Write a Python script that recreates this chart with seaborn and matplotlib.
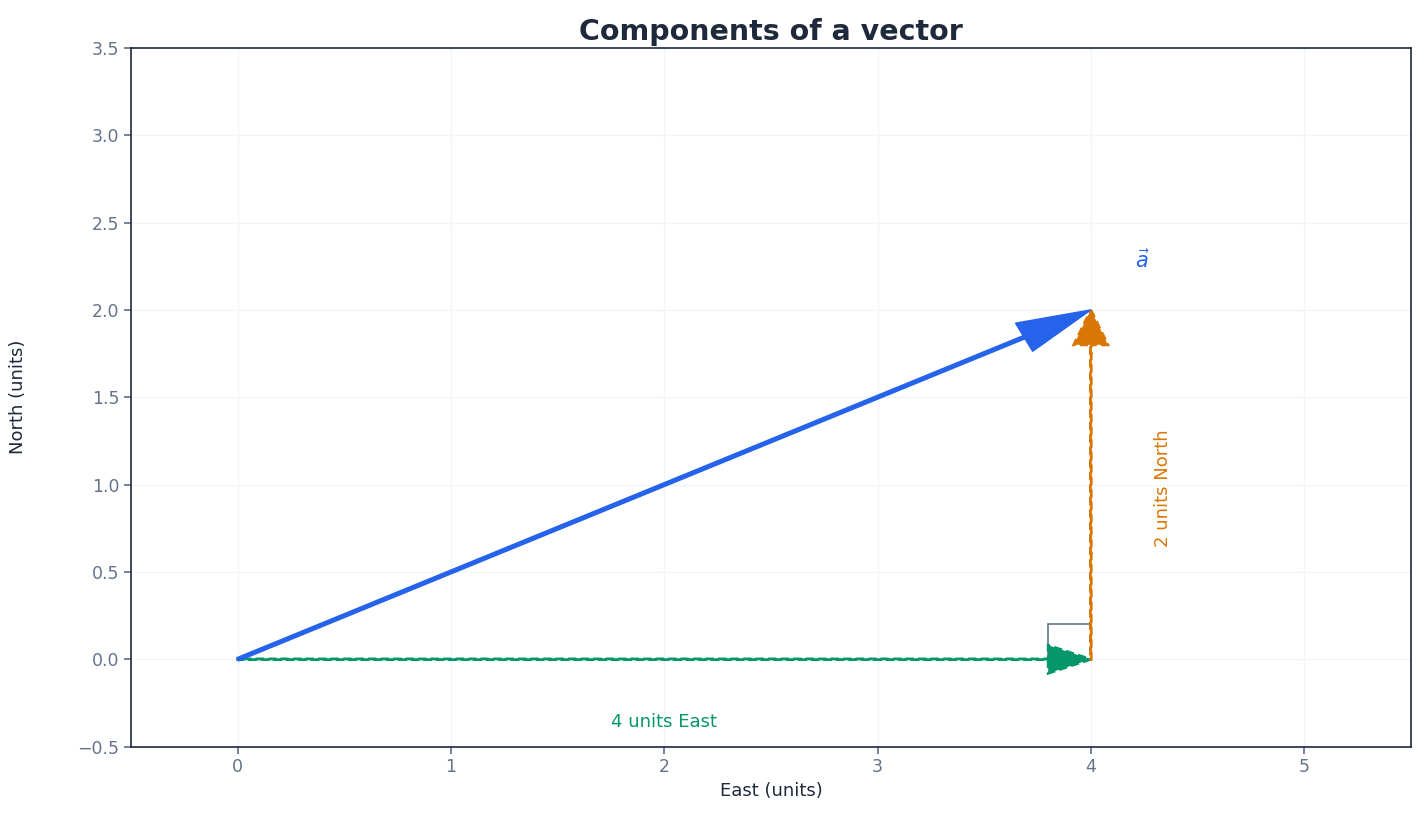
import matplotlib
matplotlib.use("Agg")
import matplotlib.pyplot as plt
import matplotlib.patches as mpatches
import seaborn as sns

# vector and its components
vec_a = (4, 2)
east = (4, 0)
north = (0, 2)
x_ticks = [0, 1, 2, 3, 4, 5]
y_ticks = [-0.5, 0.0, 0.5, 1.0, 1.5, 2.0, 2.5, 3.0, 3.5]

BLUE = "#2563eb"
GREEN = "#059669"
ORANGE = "#d97706"
DARK = "#1e293b"
GREY = "#64748b"

sns.set_theme(style="white")
plt.rcParams["font.family"] = ["DejaVu Sans"]

fig, ax = plt.subplots(figsize=(14.25, 8.25), dpi=100)

ax.arrow(0, 0, vec_a[0], vec_a[1], width=0.02, head_width=0.18, head_length=0.35,
         length_includes_head=True, color=BLUE, zorder=3)
ax.arrow(0, 0, east[0], east[1], width=0.004, head_width=0.16, head_length=0.2,
         length_includes_head=True, color=GREEN, linestyle=(0, (3, 1.5)), linewidth=2, zorder=2)
ax.arrow(east[0], east[1], north[0], north[1], width=0.004, head_width=0.16, head_length=0.2,
         length_includes_head=True, color=ORANGE, linestyle=(0, (3, 1.5)), linewidth=2, zorder=2)

# right angle marker
ax.add_patch(mpatches.Rectangle((east[0] - 0.2, 0), 0.2, 0.2, fill=False,
                                edgecolor=GREY, linewidth=1.2))

ax.text(4.24, 2.28, r"$\vec{a}$", color=BLUE, fontsize=15, ha="center", va="center")
ax.text(2, -0.36, "4 units East", color=GREEN, fontsize=13, ha="center", va="center")
ax.text(4.34, 0.98, "2 units North", color=ORANGE, fontsize=13, ha="center", va="center",
        rotation=90)

ax.set_xlim(-0.5, 5.5)
ax.set_ylim(-0.5, 3.5)
ax.set_xticks(x_ticks)
ax.set_yticks(y_ticks)
ax.set_yticklabels([f"{v:.1f}".replace("-", "\u2212") for v in y_ticks])
ax.grid(True, color="#f1f5f9", linewidth=1)
ax.tick_params(colors=GREY, labelsize=12.5, length=5, left=True, bottom=True)
for s in ax.spines.values():
    s.set_color(DARK)
    s.set_linewidth(1.2)

ax.set_xlabel("East (units)", fontsize=13, color=DARK)
ax.set_ylabel("North (units)", fontsize=13, color=DARK, labelpad=36)
ax.set_title("Components of a vector", fontsize=20.5, fontweight="bold", color=DARK, pad=6)

fig.subplots_adjust(left=0.092, right=0.99, top=0.942, bottom=0.095)
fig.savefig("out.png")
